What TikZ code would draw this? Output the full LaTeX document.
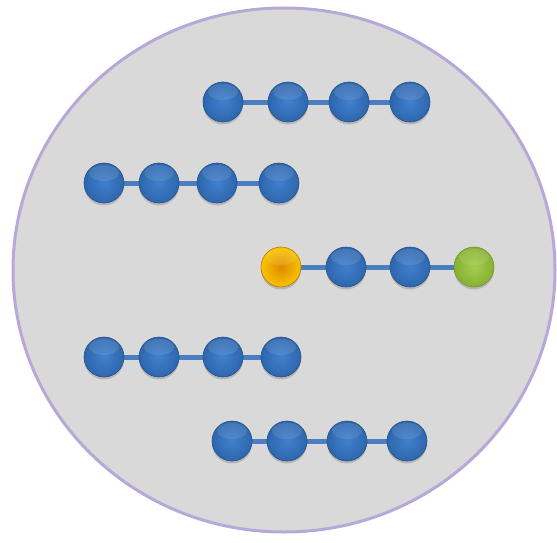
\documentclass[tikz,border=0pt]{standalone}
\usetikzlibrary{shadows,backgrounds,shapes.geometric}
\definecolor{bgfill}{HTML}{D9D9D9}
\definecolor{rim}{HTML}{B7A8D8}
\definecolor{bluein}{HTML}{4080CE}
\definecolor{blueout}{HTML}{2E66AC}
\definecolor{blueline}{HTML}{4A7EC0}
\definecolor{yelin}{HTML}{E08A00}
\definecolor{yelout}{HTML}{F7C400}
\definecolor{grnin}{HTML}{A6CC4E}
\definecolor{grnout}{HTML}{86B133}
\pgfdeclarelayer{bgzero}
\pgfdeclarelayer{bgone}
\pgfsetlayers{bgzero,bgone,main}
\tikzset{
  bead/.style={circle, minimum size=40pt, inner sep=0pt,
    shading=radial, inner color=bluein, outer color=blueout,
    draw=blueout!80!black, line width=0.6pt,
    drop shadow={shadow xshift=0pt, shadow yshift=-2.5pt, opacity=0.3, fill=black!60},
    path picture={\fill[white, opacity=0.1] ([yshift=-10pt]path picture bounding box.north) ellipse (15pt and 8pt);}},
  startbead/.style={bead, inner color=yelin, outer color=yelout, draw=yelin!85!black},
  endbead/.style={bead, inner color=grnin, outer color=grnout, draw=grnout!85!black},
  link/.style={draw=blueline, line width=5pt},
  dish/.style={ellipse, fill=bgfill, draw=rim, line width=3pt, minimum width=542pt, minimum height=524pt, inner sep=0pt}
}
\begin{document}
\begin{tikzpicture}[x=1pt,y=-1pt]
\useasboundingbox (0,0) rectangle (557,543);
\begin{pgfonlayer}{bgzero}
\node[dish] (dish) at (284,270) {};
\end{pgfonlayer}
% row 1
\node[bead] (a1) at (223,102) {};
\node[bead] (a2) at (288,102) {};
\node[bead] (a3) at (349,102) {};
\node[bead] (a4) at (410,102) {};
% row 2
\node[bead] (b1) at (104,183) {};
\node[bead] (b2) at (159,183) {};
\node[bead] (b3) at (217,183) {};
\node[bead] (b4) at (279,183) {};
% row 3
\node[startbead] (c1) at (281,267) {};
\node[bead] (c2) at (346,267) {};
\node[bead] (c3) at (410,267) {};
\node[endbead] (c4) at (474,267) {};
% row 4
\node[bead] (d1) at (104,357) {};
\node[bead] (d2) at (159,357) {};
\node[bead] (d3) at (223,357) {};
\node[bead] (d4) at (281,357) {};
% row 5
\node[bead] (e1) at (232,441) {};
\node[bead] (e2) at (287,441) {};
\node[bead] (e3) at (347,441) {};
\node[bead] (e4) at (407,441) {};
\begin{pgfonlayer}{bgone}
\foreach \r in {a,b,c,d,e}{
  \draw[link] (\r1) -- (\r2);
  \draw[link] (\r2) -- (\r3);
  \draw[link] (\r3) -- (\r4);
}
\end{pgfonlayer}
\end{tikzpicture}
\end{document}
